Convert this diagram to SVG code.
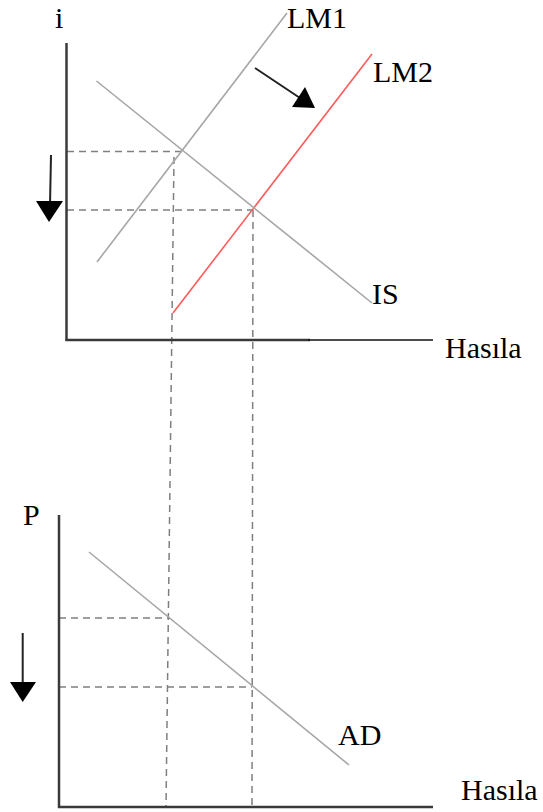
<svg xmlns="http://www.w3.org/2000/svg" width="543" height="812" viewBox="0 0 543 812">
<style>
.lbl{font-family:"Liberation Serif","Times New Roman",serif;font-size:30px;fill:#000}
.axis{stroke:#3a3a3a;stroke-width:2.5;fill:none}
.curve{stroke:#a6a6a6;stroke-width:1.6;fill:none}
.red{stroke:#ff5a5a;stroke-width:1.6;fill:none}
.dash{stroke:#7f7f7f;stroke-width:1.5;stroke-dasharray:7 5;fill:none}
.arr{stroke:#222;stroke-width:2;fill:none}
.head{fill:#000}
</style>
<rect width="543" height="812" fill="#fff"/>
<g id="connectors">
<line class="dash" x1="67" y1="151.5" x2="183" y2="151.5"/>
<line class="dash" x1="67" y1="210" x2="253" y2="210"/>
<line class="dash" x1="174" y1="157" x2="166" y2="807"/>
<line class="dash" x1="253" y1="210" x2="252" y2="807"/>
<line class="dash" x1="59" y1="618" x2="170" y2="618"/>
<line class="dash" x1="59" y1="687" x2="252" y2="687"/>
<g id="shift-arrow">
<line class="arr" x1="255" y1="68" x2="300" y2="98"/>
<polygon class="head" points="292,107 315,108 305,87"/>
</g>
<g id="i-arrow">
<line class="arr" x1="51" y1="155" x2="50" y2="205"/>
<polygon class="head" points="36,201 63,201 49,222"/>
</g>
<g id="p-arrow">
<line class="arr" x1="22.7" y1="633" x2="22.7" y2="685"/>
<polygon class="head" points="10,682 36,682 22.7,702"/>
</g>
</g>
<g id="top-axes">
<line class="axis" x1="66.5" y1="43" x2="66.5" y2="341"/>
<line class="axis" x1="65.5" y1="340" x2="310" y2="340"/>
<line stroke="#111" stroke-width="1.6" x1="308" y1="340" x2="433" y2="340"/>
<text class="lbl" x="55" y="28">i</text>
<text class="lbl" x="445" y="358">Hasıla</text>
</g>
<g id="LM1">
<line class="curve" x1="97" y1="262" x2="287" y2="13"/>
<text class="lbl" x="287" y="28">LM1</text>
</g>
<g id="LM2">
<line class="red" x1="173" y1="313" x2="372" y2="54"/>
<text class="lbl" x="373" y="82">LM2</text>
</g>
<g id="IS">
<line class="curve" x1="96.5" y1="81" x2="372" y2="303"/>
<text class="lbl" x="372" y="304">IS</text>
</g>
<g id="bottom-axes">
<line class="axis" x1="59" y1="515" x2="59" y2="808"/>
<line class="axis" x1="58" y1="807" x2="433" y2="807"/>
<text class="lbl" x="23" y="525">P</text>
<text class="lbl" x="461" y="800">Hasıla</text>
</g>
<g id="AD">
<line class="curve" x1="89" y1="552" x2="349" y2="765"/>
<text class="lbl" x="338" y="745">AD</text>
</g>
</svg>
